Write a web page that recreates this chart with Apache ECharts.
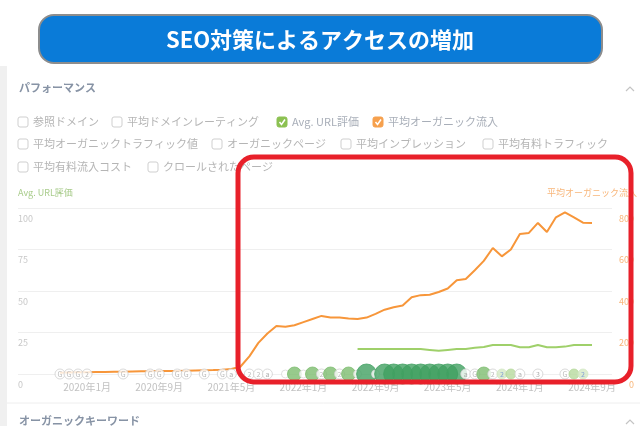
<!DOCTYPE html>
<html><head><meta charset="utf-8">
<script src="https://cdn.jsdelivr.net/npm/echarts@6/dist/echarts.min.js"></script>
<style>html,body{margin:0;padding:0;background:#fff;}#c{width:640px;height:426px;}</style>
</head><body><div id="c"></div>
<script>
// ---- data ----
var startYear = 2019, startMonth = 10, monthCount = 60;
var months = [];
for (var i = 0; i < monthCount; i++) {
  var mm = startMonth - 1 + i;
  months.push((startYear + Math.floor(mm / 12)) + '年' + (mm % 12 + 1) + '月');
}
// 平均オーガニック流入 (right axis)
var organicTraffic = [6,7,8,9,10,10,11,11,12,13,13,14,15,15,16,17,18,19,21,24,
  35,85,150,195,231,228,235,250,265,280,272,272,268,265,272,290,310,322,330,370,
  380,382,395,412,452,458,500,545,607,567,600,675,680,728,684,755,779,755,729,728];
// Avg. URL評価 (left axis), starts 2022年7月
var urlRating = [null,null,null,null,null,null,null,null,null,null,null,null,null,null,null,null,null,null,null,null,
  null,null,null,null,null,null,null,null,null,null,null,null,null,15.0,15.0,15.0,15.0,15.0,15.0,15.0,
  15.0,14.5,14.0,14.5,15.0,15.0,15.8,16.3,17.5,17.5,17.5,16.1,16.1,17.5,16.1,16.1,16.5,17.5,17.5,17.5];
var leftTicks = [0,25,50,75,100];
var rightTicks = [0,200,400,600,800];
// annotation markers along the baseline
var markerIdx  = [0,1,2,3,7,10,11,13,14,16,18,19,21,22,23,25,26,27,28,29,30,31,32,33,34,35,36,37,38,39,40,41,42,43,44,45,46,47,48,49,50,51,53,56,57,58];
var markerKind = ['G','G','G','2','G','G','G','G','G','G','G','a','2','2','a','o','gm','o','gm','2','gm','2','gm','o','gd','o','gd','gd','gd','gd','gd','gd','gd','gd','gd','a','G','gm','2','b2','gl','a','3','G','gl','b2'];
var legendRows = [
  [['参照ドメイン',''],['平均ドメインレーティング',''],['Avg. URL評価','green'],['平均オーガニック流入','orange']],
  [['平均オーガニックトラフィック値',''],['オーガニックページ',''],['平均インプレッション',''],['平均有料トラフィック','']],
  [['平均有料流入コスト',''],['クロールされたページ','']]
];
var legendX = [[18,112,277,373],[18,212,341,483],[18,148]];
var legendY = [122,144,167];

// ---- styles ----
var FONT = '"Noto Sans CJK JP","Noto Sans",sans-serif';
var kindStyle = {
  'G': {size:10, color:'#fff', border:'#cfcfcf', text:'G', tc:'#aaa'},
  '2': {size:10, color:'#fff', border:'#cfcfcf', text:'2', tc:'#aaa'},
  'a': {size:10, color:'#fff', border:'#cfcfcf', text:'a', tc:'#999'},
  '3': {size:10, color:'#fff', border:'#cfcfcf', text:'3', tc:'#999'},
  'o': {size:8,  color:'#fff', border:'#d8d8d8', text:'', tc:'#aaa'},
  'b2':{size:10, color:'#d4e8c6', border:'#d4e8c6', text:'2', tc:'#6d8fd6'},
  'gl':{size:10, color:'#b7da9e', border:'#b7da9e', text:'', tc:'#fff'},
  'gm':{size:14, color:'#7dbd6f', border:'#7dbd6f', text:'', tc:'#fff'},
  'gd':{size:20, color:'#41a062', border:'#41a062', text:'', tc:'#fff'}
};
var markerData = markerIdx.map(function(ix, k){
  var s = kindStyle[markerKind[k]];
  return {value:[ix, 0], symbolSize:s.size,
    itemStyle:{color:s.color, borderColor:s.border, borderWidth:1},
    label:{show: !!s.text, formatter:s.text, color:s.tc, fontSize:7, fontFamily:FONT, position:'inside'}};
});

var graphics = [];
graphics.push({type:'rect', shape:{x:0,y:66,width:7,height:360}, style:{fill:'#f0f0f0'}, z:0});
graphics.push({type:'rect', shape:{x:39,y:15,width:563,height:48,r:15}, style:{fill:'#0a7bd8', stroke:'#8d8d8d', lineWidth:2}, z:50});
graphics.push({type:'text', x:320, y:40, style:{text:'SEO対策によるアクセスの増加', fill:'#fff', font:'bold 22px '+FONT, textAlign:'center', textVerticalAlign:'middle'}, z:51});
graphics.push({type:'text', x:19, y:88, style:{text:'パフォーマンス', fill:'#8793a5', font:'bold 11px '+FONT, textVerticalAlign:'middle'}});
graphics.push({type:'text', x:19, y:421, style:{text:'オーガニックキーワード', fill:'#8793a5', font:'bold 11px '+FONT, textVerticalAlign:'middle'}});
graphics.push({type:'polyline', shape:{points:[[626,91],[630,87],[634,91]]}, style:{stroke:'#c4c4c4', lineWidth:1.2, fill:null}});
graphics.push({type:'polyline', shape:{points:[[626,424],[630,420],[634,424]]}, style:{stroke:'#c4c4c4', lineWidth:1.2, fill:null}});
graphics.push({type:'line', shape:{x1:7,y1:403,x2:640,y2:403}, style:{stroke:'#eeeeee', lineWidth:1}});
legendRows.forEach(function(row, r){
  row.forEach(function(item, c){
    var x = legendX[r][c], y = legendY[r];
    var col = item[1] === 'green' ? '#8cc152' : item[1] === 'orange' ? '#f6a04d' : null;
    graphics.push({type:'rect', shape:{x:x, y:y-5, width:10, height:10, r:2},
      style:{fill: col || '#fff', stroke: col || '#cfcfcf', lineWidth:1}});
    if (col) graphics.push({type:'polyline', shape:{points:[[x+2.5,y],[x+4.5,y+2.5],[x+8,y-2.5]]}, style:{stroke:'#fff', lineWidth:1.5, fill:null}});
    graphics.push({type:'text', x:x+15, y:y, style:{text:item[0], fill: col ? '#a8aeb8' : '#b5b5b5', font:'11px '+FONT, textVerticalAlign:'middle'}});
  });
});
graphics.push({type:'text', x:18, y:193, style:{text:'Avg. URL評価', fill:'#a9cc8c', font:'9px '+FONT, textVerticalAlign:'middle'}});
graphics.push({type:'text', x:637, y:193, style:{text:'平均オーガニック流入', fill:'#f8b67a', font:'9px '+FONT, textAlign:'right', textVerticalAlign:'middle'}});
graphics.push({type:'rect', shape:{x:238,y:157,width:393,height:225,r:16}, style:{fill:null, stroke:'#e8202a', lineWidth:5}, z:100});

var chart = echarts.init(document.getElementById('c'), null, {renderer:'canvas'});
chart.setOption({
  animation:false,
  textStyle:{fontFamily:FONT},
  grid:[
    {left:60, right:48, top:208, bottom:52},
    {left:18, right:28, top:208, bottom:52}
  ],
  xAxis:[
    {type:'category', data:months, boundaryGap:false, gridIndex:0,
      axisLine:{show:false}, axisTick:{show:false},
      axisLabel:{color:'#c2c2c2', fontSize:10, margin:8,
        interval:function(i){ return (i - 3) % 8 === 0; }}},
    {type:'value', gridIndex:1, show:false, min:0, max:1}
  ],
  yAxis:[
    {type:'value', min:0, max:100, interval:25, position:'left', gridIndex:0,
      axisLine:{show:false}, axisTick:{show:false}, splitLine:{show:false},
      axisLabel:{color:'#c8c8c8', fontSize:9, align:'left', margin:42, verticalAlign:'top', padding:[6,0,0,0],
        formatter:function(v){ return leftTicks.indexOf(v) >= 0 ? String(v) : ''; }}},
    {type:'value', min:0, max:800, interval:200, position:'right', gridIndex:0,
      axisLine:{show:false}, axisTick:{show:false}, splitLine:{show:false},
      axisLabel:{color:'#f8b67a', fontSize:9, align:'right', margin:42, verticalAlign:'top', padding:[6,0,0,0],
        formatter:function(v){ return rightTicks.indexOf(v) >= 0 ? String(v) : ''; }}},
    {type:'value', min:0, max:100, interval:25, gridIndex:1,
      axisLine:{show:false}, axisTick:{show:false}, axisLabel:{show:false},
      splitLine:{lineStyle:{color:'#efefef'}}}
  ],
  series:[
    {type:'line', name:'平均オーガニック流入', data:organicTraffic, xAxisIndex:0, yAxisIndex:1, showSymbol:false,
      lineStyle:{color:'#f7963a', width:2}, itemStyle:{color:'#f7963a'}, z:3},
    {type:'line', name:'Avg. URL評価', data:urlRating, xAxisIndex:0, yAxisIndex:0, showSymbol:false,
      lineStyle:{color:'#9fd06a', width:2}, itemStyle:{color:'#9fd06a'}, z:3},
    {type:'scatter', data:markerData, xAxisIndex:0, yAxisIndex:0, symbol:'circle', z:5}
  ],
  graphic:graphics
});
</script></body></html>
